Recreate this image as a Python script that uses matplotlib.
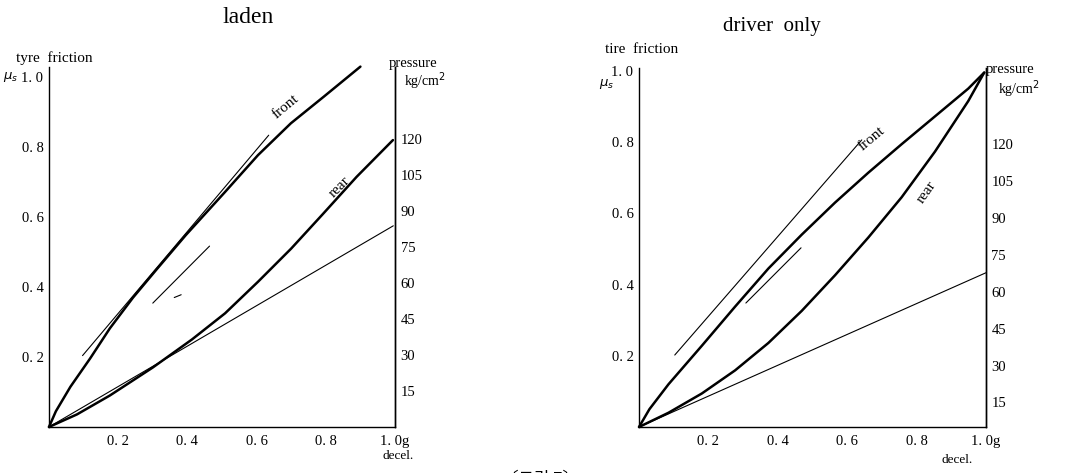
import matplotlib
matplotlib.use("Agg")
import matplotlib.pyplot as plt

plt.rcParams["font.family"] = ["Liberation Serif", "DejaVu Serif", "Noto Sans CJK KR"]

# ---- laden (left panel): decel [g] vs tyre friction mu
laden_front_x = [0.0, 0.02, 0.062, 0.119, 0.176, 0.243, 0.309, 0.395, 0.509, 0.604, 0.699, 0.794, 0.90]
laden_front_y = [0.0, 0.045, 0.115, 0.196, 0.282, 0.37, 0.448, 0.548, 0.672, 0.777, 0.868, 0.944, 1.03]
laden_rear_x = [0.0, 0.081, 0.176, 0.30, 0.413, 0.509, 0.604, 0.70, 0.79, 0.889, 0.994]
laden_rear_y = [0.0, 0.036, 0.09, 0.17, 0.25, 0.325, 0.415, 0.51, 0.607, 0.715, 0.82]
laden_ideal_x = [0.0, 0.995]
laden_ideal_y = [0.0, 0.575]
laden_guide_long_x = [0.097, 0.635]
laden_guide_long_y = [0.204, 0.834]
laden_guide_short_x = [0.30, 0.464]
laden_guide_short_y = [0.354, 0.517]
laden_dash_x = [0.362, 0.382]
laden_dash_y = [0.37, 0.378]

# ---- driver only (right panel)
drv_front_x = [0.0, 0.03, 0.085, 0.181, 0.277, 0.373, 0.469, 0.565, 0.661, 0.757, 0.853, 0.949, 0.995]
drv_front_y = [0.0, 0.05, 0.12, 0.228, 0.338, 0.445, 0.54, 0.63, 0.714, 0.794, 0.872, 0.95, 0.995]
drv_rear_x = [0.0, 0.085, 0.181, 0.277, 0.373, 0.469, 0.565, 0.661, 0.757, 0.853, 0.949, 0.995]
drv_rear_y = [0.0, 0.04, 0.094, 0.159, 0.236, 0.326, 0.426, 0.532, 0.645, 0.773, 0.915, 0.995]
drv_ideal_x = [0.0, 1.0]
drv_ideal_y = [0.0, 0.433]
drv_guide_long_x = [0.103, 0.642]
drv_guide_long_y = [0.202, 0.806]
drv_guide_short_x = [0.308, 0.467]
drv_guide_short_y = [0.348, 0.503]

mu_ticks = [0.2, 0.4, 0.6, 0.8, 1.0]
mu_labels = ["0. 2", "0. 4", "0. 6", "0. 8", "1. 0"]
decel_ticks = [0.2, 0.4, 0.6, 0.8, 1.0]
decel_labels = ["0. 2", "0. 4", "0. 6", "0. 8", "1. 0g"]
press_ticks = [15, 30, 45, 60, 75, 90, 105, 120]

THICK = 1.8
THIN = 0.8
FS = 10.5


def setup(ax, ymax, pmin, pmax):
    ax.set_xlim(0, 1.0)
    ax.set_ylim(0, ymax)
    ax.spines["top"].set_visible(False)
    for s in ("left", "right", "bottom"):
        ax.spines[s].set_linewidth(1.0)
    ax.set_xticks(decel_ticks)
    ax.set_xticklabels(decel_labels, fontsize=FS)
    ax.set_yticks(mu_ticks)
    ax.set_yticklabels(mu_labels, fontsize=FS)
    ax.tick_params(length=0, pad=4)
    ax.tick_params(axis="x", pad=6)
    tw = ax.twinx()
    tw.set_ylim(pmin, pmax)
    tw.set_yticks(press_ticks)
    tw.set_yticklabels([str(p) for p in press_ticks], fontsize=FS)
    tw.tick_params(length=0, pad=4)
    for s in ("top", "left", "bottom"):
        tw.spines[s].set_visible(False)
    tw.spines["right"].set_linewidth(1.0)
    return tw


def curves(ax, series):
    for xs, ys, lw in series:
        ax.plot(xs, ys, color="black", lw=lw, clip_on=False,
                solid_joinstyle="round", solid_capstyle="round")


fig = plt.figure(figsize=(10.74, 4.73), dpi=100)

# left panel: laden
ax1 = fig.add_axes([0.0456, 0.0973, 0.3222, 0.7611])
setup(ax1, 1.029, 0, 150)
curves(ax1, [
    (laden_front_x, laden_front_y, THICK),
    (laden_rear_x, laden_rear_y, THICK),
    (laden_ideal_x, laden_ideal_y, THIN),
    (laden_guide_long_x, laden_guide_long_y, THIN),
    (laden_guide_short_x, laden_guide_short_y, THIN),
    (laden_dash_x, laden_dash_y, THIN),
])
ax1.text(0.685, 0.915, "front", rotation=40, fontsize=11, ha="center", va="center")
ax1.text(0.84, 0.685, "rear", rotation=45, fontsize=11, ha="center", va="center")
fig.text(0.231, 0.962, "laden", fontsize=17, ha="center", va="center")
fig.text(0.015, 0.877, "tyre  friction", fontsize=11, ha="left", va="center")
fig.text(0.003, 0.837, "$\\mu_s$", fontsize=9.5, ha="left", va="center")
fig.text(0.362, 0.866, "pressure", fontsize=10.5, ha="left", va="center")
fig.text(0.376, 0.828, "kg/cm$^2$", fontsize=10, ha="left", va="center")
fig.text(0.371, 0.036, "decel.", fontsize=9.5, ha="center", va="center")

# right panel: driver only
ax2 = fig.add_axes([0.595, 0.0973, 0.323, 0.759])
setup(ax2, 1.008, 5, 151)
curves(ax2, [
    (drv_front_x, drv_front_y, THICK),
    (drv_rear_x, drv_rear_y, THICK),
    (drv_ideal_x, drv_ideal_y, THIN),
    (drv_guide_long_x, drv_guide_long_y, THIN),
    (drv_guide_short_x, drv_guide_short_y, THIN),
])
ax2.text(0.67, 0.81, "front", rotation=40, fontsize=11, ha="center", va="center")
ax2.text(0.83, 0.66, "rear", rotation=55, fontsize=11, ha="center", va="center")
fig.text(0.719, 0.943, "driver  only", fontsize=15, ha="center", va="center")
fig.text(0.563, 0.896, "tire  friction", fontsize=11, ha="left", va="center")
fig.text(0.558, 0.822, "$\\mu_s$", fontsize=9.5, ha="left", va="center")
fig.text(0.918, 0.853, "pressure", fontsize=10.5, ha="left", va="center")
fig.text(0.929, 0.812, "kg/cm$^2$", fontsize=10, ha="left", va="center")
fig.text(0.891, 0.027, "decel.", fontsize=9.5, ha="center", va="center")

# figure caption, cut by the lower edge as in the scan
fig.text(0.503, -0.012, "〔그림 7〕", fontsize=12, ha="center", va="center",
         family=["Noto Sans CJK KR", "DejaVu Sans"])

fig.savefig("out.png", dpi=100)
